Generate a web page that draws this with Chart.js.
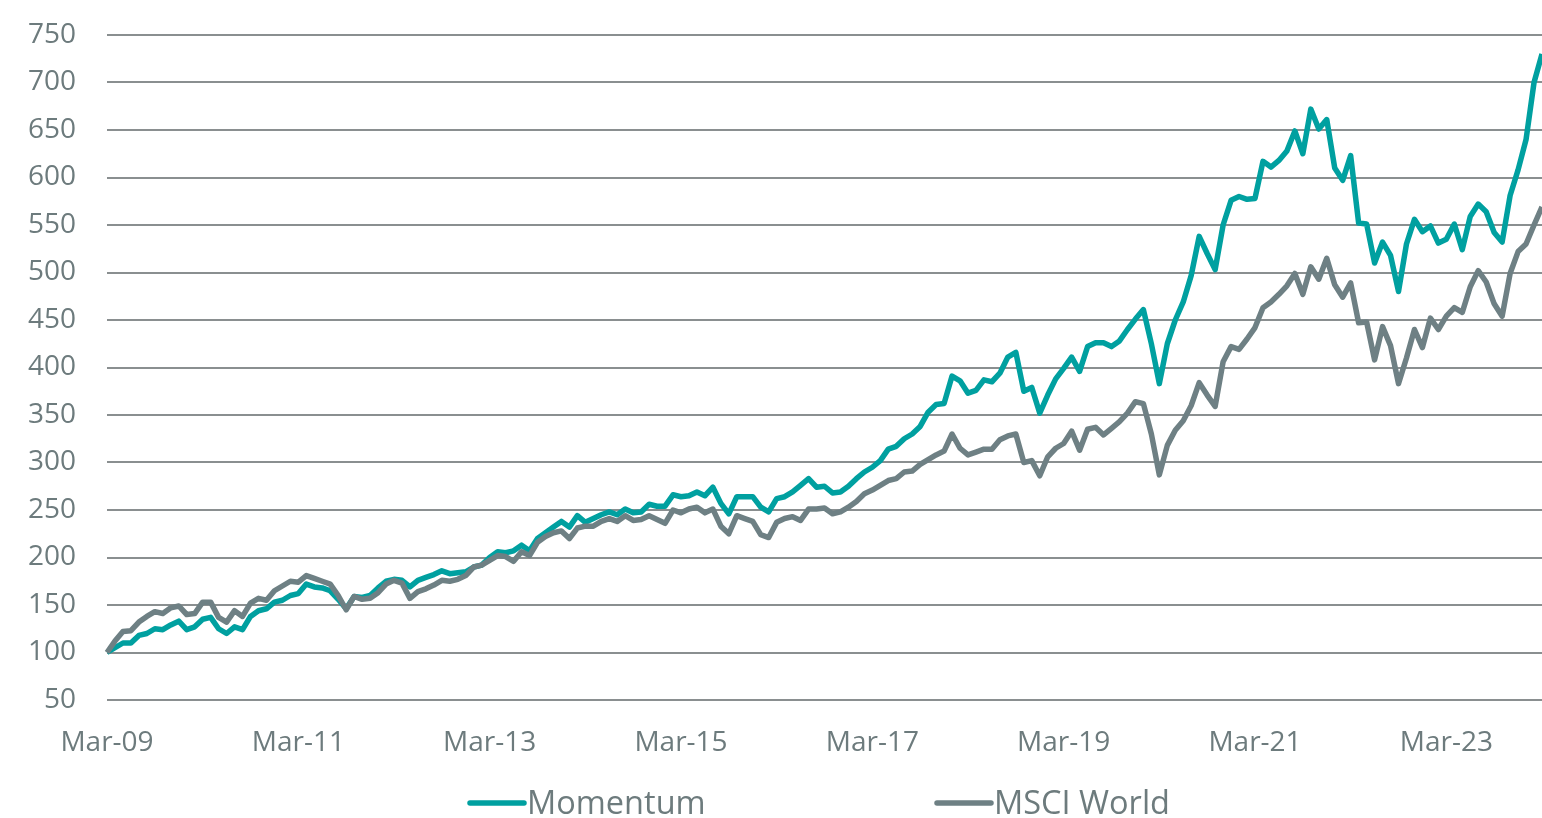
<!DOCTYPE html>
<html>
<head>
<meta charset="utf-8">
<script src="https://cdn.jsdelivr.net/npm/chart.js@4.4.0/dist/chart.umd.min.js"></script>
<style>
  html, body { margin: 0; padding: 0; background: #fff; }
  #wrap { width: 1542px; height: 818px; position: relative; }
</style>
</head>
<body>
<div id="wrap"><canvas id="chart"></canvas></div>
<script>
// monthly index levels, Mar-09 = 100
const momentum = [
  100,105,110,110,118,120,125,124,129,133,
  124,127,135,137,125,120,127,124,138,144,
  146,153,155,160,162,172,169,168,165,156,
  146,159,158,160,168,175,177,176,169,176,
  179,182,186,183,184,185,190,192,200,206,
  205,207,213,207,220,226,232,238,232,244,
  237,241,245,248,245,251,247,248,256,254,
  254,266,264,265,269,265,274,257,246,264,
  264,264,253,248,262,264,269,276,283,274,
  275,268,269,275,283,290,295,302,314,317,
  325,330,338,353,361,362,391,386,373,376,
  387,385,394,411,416,375,379,352,371,388,
  399,411,396,422,426,426,422,428,440,451,
  461,425,383,425,450,469,497,538,520,503,
  550,576,580,577,578,617,611,618,628,649,
  625,672,651,661,610,597,623,552,551,510,
  532,518,480,530,556,543,549,531,535,551,
  524,559,572,564,542,532,581,608,640,700,
  730
];
const msciWorld = [
  100,112,122,123,132,138,143,141,147,149,
  140,141,153,153,137,132,144,138,152,157,
  155,165,170,175,174,181,178,175,172,160,
  145,159,156,157,163,172,176,173,157,164,
  167,171,176,175,177,181,190,192,197,202,
  201,196,206,202,216,222,226,228,220,231,
  233,233,238,241,238,244,239,240,244,240,
  236,250,247,251,253,247,251,233,225,244,
  241,238,224,221,237,241,243,239,251,251,
  252,246,248,253,259,267,271,276,281,283,
  290,291,298,303,308,312,330,315,308,311,
  314,314,324,328,330,300,302,286,306,315,
  320,333,313,335,337,329,336,343,352,364,
  362,330,287,318,334,344,360,384,371,359,
  406,422,419,430,442,463,469,477,486,499,
  477,506,493,515,487,474,489,447,448,408,
  443,423,383,410,440,421,452,440,454,463,
  458,485,502,490,467,454,499,522,530,550,
  569
];
const tickLabels = ['Mar-09','Mar-11','Mar-13','Mar-15','Mar-17','Mar-19','Mar-21','Mar-23'];
const seriesNames = ['Momentum', 'MSCI World'];
const seriesColors = ['#00a0a0', '#6e8084'];

// one category per month, starting Mar-09
const monthNames = ['Jan','Feb','Mar','Apr','May','Jun','Jul','Aug','Sep','Oct','Nov','Dec'];
const labels = [];
for (let i = 0; i < momentum.length; i++) {
  const m = (2 + i) % 12;
  const y = 9 + Math.floor((2 + i) / 12);
  labels.push(monthNames[m] + '-' + String(y).padStart(2, '0'));
}

const textColor = '#6d7b7d';
const fontFamily = '"Open Sans", "Noto Sans", sans-serif';

// legend drawn under the axis, items spread apart like the original
const bottomLegend = {
  id: 'bottomLegend',
  afterDraw(chart) {
    const ctx = chart.ctx;
    const items = [
      { x: 468, name: seriesNames[0], color: seriesColors[0] },
      { x: 935, name: seriesNames[1], color: seriesColors[1] }
    ];
    ctx.save();
    ctx.font = '32.5px ' + fontFamily;
    ctx.textBaseline = 'middle';
    items.forEach(it => {
      ctx.strokeStyle = it.color;
      ctx.lineWidth = 5.5;
      ctx.lineCap = 'round';
      ctx.beginPath();
      ctx.moveTo(it.x + 2, 803);
      ctx.lineTo(it.x + 56, 803);
      ctx.stroke();
      ctx.fillStyle = textColor;
      ctx.fillText(it.name, it.x + 59, 805);
    });
    ctx.restore();
  }
};

// keep edge labels from pushing the plot area in
const noEdgePadding = scale => {
  scale.paddingLeft = 0;
  scale.paddingRight = 0;
  scale.paddingTop = 0;
  scale.paddingBottom = 0;
};

new Chart(document.getElementById('chart'), {
  type: 'line',
  data: {
    labels: labels,
    datasets: [{
      label: seriesNames[0],
      data: momentum,
      borderColor: seriesColors[0],
      backgroundColor: seriesColors[0],
      borderWidth: 5.5,
      pointRadius: 0,
      borderJoinStyle: 'round',
      order: 1
    }, {
      label: seriesNames[1],
      data: msciWorld,
      borderColor: seriesColors[1],
      backgroundColor: seriesColors[1],
      borderWidth: 5.5,
      pointRadius: 0,
      borderJoinStyle: 'round',
      order: 0
    }]
  },
  options: {
    responsive: true,
    maintainAspectRatio: false,
    animation: false,
    layout: { padding: { left: 0, right: 0, top: 35, bottom: 58 } },
    plugins: {
      legend: { display: false },
      tooltip: { enabled: false }
    },
    scales: {
      x: {
        afterFit: scale => { noEdgePadding(scale); scale.height = 60; },
        grid: { display: false, drawTicks: false },
        border: { display: false },
        ticks: {
          autoSkip: false,
          maxRotation: 0,
          minRotation: 0,
          padding: 26,
          color: textColor,
          font: { family: fontFamily, size: 28 },
          callback: function (value) {
            const l = this.getLabelForValue(value);
            return tickLabels.includes(l) ? l : '';
          }
        }
      },
      y: {
        afterFit: scale => { noEdgePadding(scale); scale.width = 107; },
        min: 50,
        max: 750,
        grid: { color: '#8a8f90', lineWidth: 2, drawTicks: false },
        border: { display: false },
        ticks: {
          stepSize: 50,
          padding: 31,
          color: textColor,
          font: { family: fontFamily, size: 28 }
        }
      }
    }
  },
  plugins: [bottomLegend]
});
</script>
</body>
</html>
